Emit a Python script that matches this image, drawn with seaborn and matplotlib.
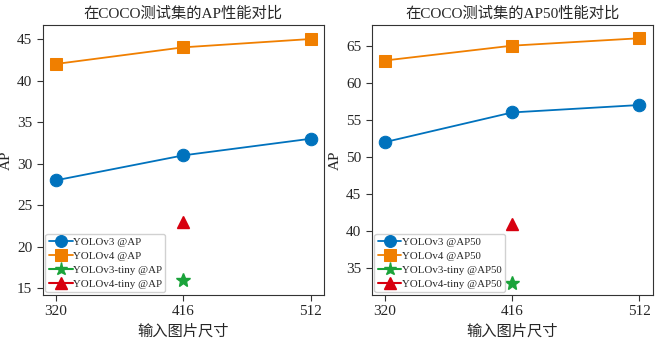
import numpy as np
import pandas as pd
import seaborn as sns
import matplotlib.pyplot as plt

sns.set_style('ticks')
plt.rcParams['font.family'] = ['Liberation Serif', 'Noto Sans CJK SC']
plt.rcParams['axes.unicode_minus'] = False

# data
sizes = [320, 416, 512]
v3_ap = [28, 31, 33]
v4_ap = [42, 44, 45]
v3_tiny_ap = [16]
v4_tiny_ap = [23]
v3_ap50 = [52, 56, 57]
v4_ap50 = [63, 65, 66]
v3_tiny_ap50 = [33]
v4_tiny_ap50 = [41]
tiny_size = [416]

blue = '#0072bd'
orange = '#f07f00'
green = '#1aa33a'
red = '#d7000f'

fig, axes = plt.subplots(1, 2, figsize=(6.58, 3.41), dpi=100)


def draw(ax, v3, v4, v3t, v4t, tag, title, ylab, yticks):
    sns.lineplot(x=sizes, y=v3, ax=ax, color=blue, marker='o', markersize=9,
                 markeredgecolor=blue, linewidth=1.3, label=f'YOLOv3 @{tag}')
    sns.lineplot(x=sizes, y=v4, ax=ax, color=orange, marker='s', markersize=9,
                 markeredgecolor=orange, linewidth=1.3, label=f'YOLOv4 @{tag}')
    ax.plot(tiny_size, v3t, color=green, marker='*', markersize=10, linestyle='-',
            markeredgecolor=green, label=f'YOLOv3-tiny @{tag}')
    ax.plot(tiny_size, v4t, color=red, marker='^', markersize=9, linestyle='-',
            markeredgecolor=red, label=f'YOLOv4-tiny @{tag}')
    ax.set_xticks(sizes)
    ax.set_xlim(310, 522)
    ax.set_yticks(yticks)
    ax.set_title(title, fontsize=11, pad=5)
    ax.set_xlabel('输入图片尺寸', fontsize=11, labelpad=4)
    ax.set_ylabel(ylab, fontsize=11, labelpad=3)
    ax.tick_params(labelsize=11, length=4, color='#333333')
    for s in ax.spines.values():
        s.set_color('#333333')
    ax.legend(loc='lower left', fontsize=7.8, handlelength=2.2,
              borderpad=0.3, labelspacing=0.42, handletextpad=0.05,
              borderaxespad=0.25, framealpha=0.9, markerscale=0.95)


draw(axes[0], v3_ap, v4_ap, v3_tiny_ap, v4_tiny_ap, 'AP',
     '在COCO测试集的AP性能对比', 'AP', [15, 20, 25, 30, 35, 40, 45])
axes[0].set_ylim(14.2, 46.7)
draw(axes[1], v3_ap50, v4_ap50, v3_tiny_ap50, v4_tiny_ap50, 'AP50',
     '在COCO测试集的AP50性能对比', 'AP', [35, 40, 45, 50, 55, 60, 65])
axes[1].set_ylim(31.4, 67.8)

plt.subplots_adjust(left=0.065, right=0.992, top=0.927, bottom=0.135, wspace=0.17)
plt.savefig('out.png', dpi=100)
